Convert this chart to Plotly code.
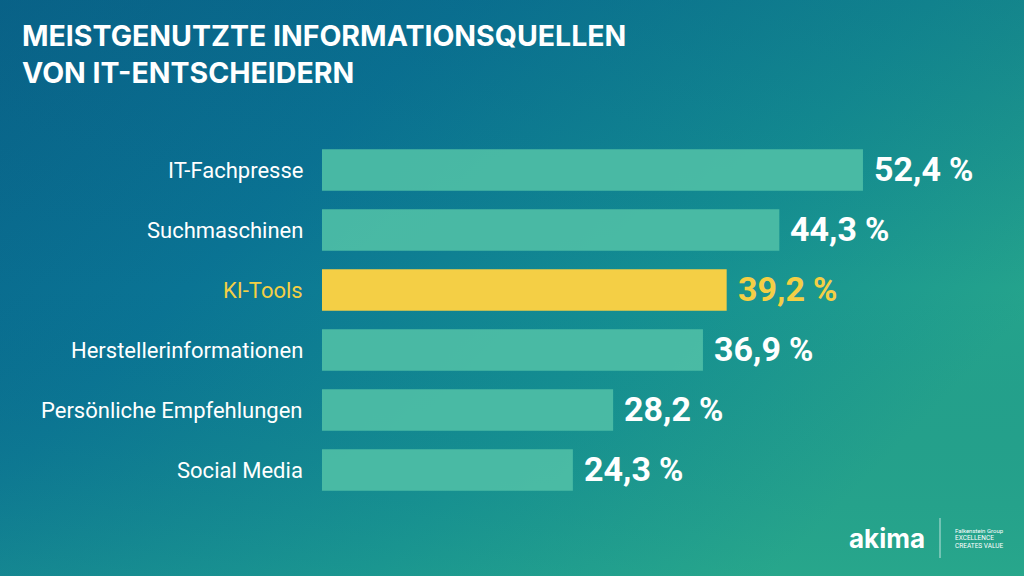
import base64
import plotly.graph_objects as go

categories = ["IT-Fachpresse", "Suchmaschinen", "KI-Tools", "Herstellerinformationen",
              "Persönliche Empfehlungen", "Social Media"]
values = [52.4, 44.3, 39.2, 36.9, 28.2, 24.3]
highlight = "KI-Tools"

title_lines = ["MEISTGENUTZTE INFORMATIONSQUELLEN", "VON IT-ENTSCHEIDERN"]

BAR = "rgba(78,190,166,0.92)"
YELLOW = "#f4cf45"
WHITE = "#ffffff"

# plot area in pixels
L, R, T, B = 322, 0, 140, 76
W, H = 1024, 576
PW, PH = W - L - R, H - T - B

colors = [YELLOW if c == highlight else BAR for c in categories]

svg = """<svg xmlns='http://www.w3.org/2000/svg' width='1024' height='576' preserveAspectRatio='none'>
<defs>
<linearGradient id='g' x1='0' y1='0' x2='1' y2='0.55'>
<stop offset='0' stop-color='#09648a'/>
<stop offset='0.35' stop-color='#0a7494'/>
<stop offset='0.7' stop-color='#148f92'/>
<stop offset='1' stop-color='#25a48c'/>
</linearGradient>
<linearGradient id='h' x1='0' y1='0' x2='0' y2='1'>
<stop offset='0' stop-color='#085a7e' stop-opacity='0.25'/>
<stop offset='0.5' stop-color='#085a7e' stop-opacity='0'/>
<stop offset='1' stop-color='#2fae8a' stop-opacity='0.25'/>
</linearGradient>
</defs>
<rect width='1024' height='576' fill='url(#g)'/>
<rect width='1024' height='576' fill='url(#h)'/>
</svg>"""
bg_uri = "data:image/svg+xml;base64," + base64.b64encode(svg.encode()).decode()


def px_x(p):
    return (p - L) / PW


def px_y(p):
    return (H - B - p) / PH


fig = go.Figure()
fig.add_trace(go.Bar(
    x=values, y=categories, orientation="h",
    marker=dict(color=colors, line=dict(width=0)),
    hoverinfo="skip",
))

annotations = []
for c, v in zip(categories, values):
    col = YELLOW if c == highlight else WHITE
    annotations.append(dict(
        x=0, y=c, xref="x", yref="y", xanchor="right", yanchor="middle",
        xshift=-17, showarrow=False, text=c,
        font=dict(family="Roboto", size=22, color=col),
    ))
    num = f"{v:.1f}".replace(".", ",")
    annotations.append(dict(
        x=v, y=c, xref="x", yref="y", xanchor="left", yanchor="middle",
        xshift=9, yshift=1, showarrow=False,
        text=f"<b>{num}</b><span style='font-size:33px'><b>&nbsp;%</b></span>",
        font=dict(family="Roboto", size=34, color=col),
    ))

annotations.append(dict(
    x=px_x(20), y=px_y(54), xref="paper", yref="paper", showarrow=False,
    text="<br>".join(f"<b>{t}</b>" for t in title_lines),
    xanchor="left", yanchor="middle", align="left",
    font=dict(family="Inter", size=28.5, color=WHITE, weight=900),
))

annotations += [
    dict(x=px_x(887), y=px_y(538), xref="paper", yref="paper", showarrow=False,
         text="<b>akima</b>", xanchor="center", yanchor="middle",
         font=dict(family="Inter", size=26, color=WHITE)),
    dict(x=px_x(953), y=px_y(530), xref="paper", yref="paper", showarrow=False,
         text="Falkenstein Group", xanchor="left", yanchor="middle", align="left",
         font=dict(family="Roboto", size=6, color=WHITE)),
    dict(x=px_x(953), y=px_y(542), xref="paper", yref="paper", showarrow=False,
         text="EXCELLENCE<br>CREATES VALUE", xanchor="left", yanchor="middle", align="left",
         font=dict(family="Roboto", size=6.5, color=WHITE)),
]

fig.update_layout(
    width=W, height=H,
    margin=dict(l=L, r=R, t=T, b=B),
    paper_bgcolor="#0c7892", plot_bgcolor="rgba(0,0,0,0)",
    bargap=0.31, showlegend=False,
    xaxis=dict(range=[0, 68], visible=False, fixedrange=True),
    yaxis=dict(autorange="reversed", visible=False, fixedrange=True,
               categoryorder="array", categoryarray=categories),
    images=[dict(source=bg_uri, xref="paper", yref="paper",
                 x=px_x(0), y=px_y(0), sizex=W / PW, sizey=H / PH,
                 xanchor="left", yanchor="top", sizing="stretch", layer="below")],
    annotations=annotations,
    shapes=[dict(type="line", xref="paper", yref="paper",
                 x0=px_x(940), x1=px_x(940), y0=px_y(518), y1=px_y(558),
                 line=dict(color="rgba(255,255,255,0.7)", width=1))],
)

fig.write_html("out.html")
